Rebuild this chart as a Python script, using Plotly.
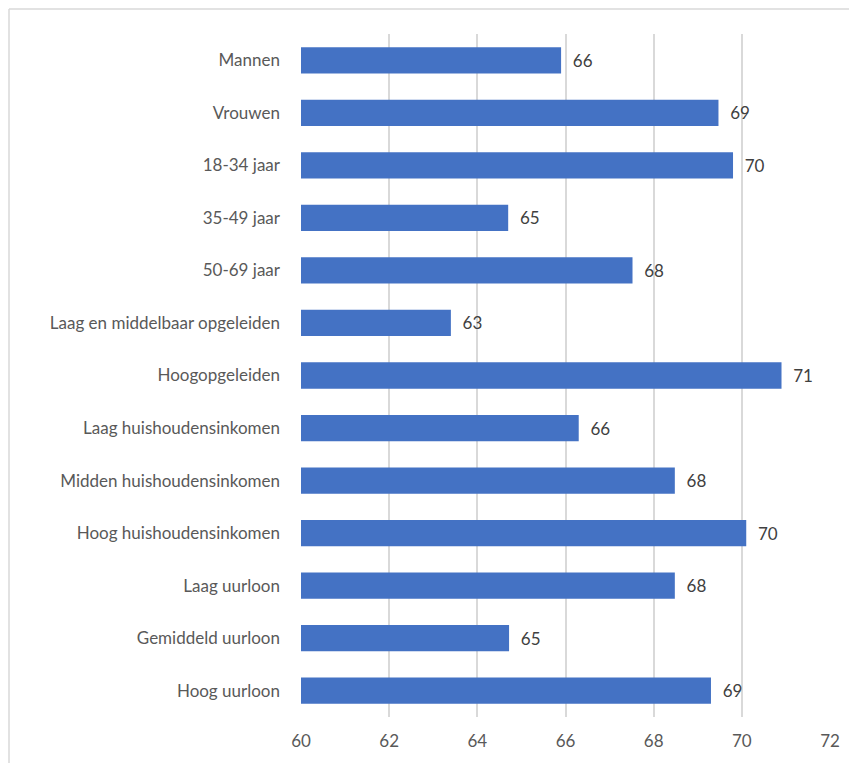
import plotly.graph_objects as go

categories = [
    "Mannen", "Vrouwen", "18-34 jaar", "35-49 jaar", "50-69 jaar",
    "Laag en middelbaar opgeleiden", "Hoogopgeleiden",
    "Laag huishoudensinkomen", "Midden huishoudensinkomen",
    "Hoog huishoudensinkomen", "Laag uurloon", "Gemiddeld uurloon",
    "Hoog uurloon",
]
values = [65.9, 69.47, 69.8, 64.7, 67.52, 63.4, 70.9, 66.3, 68.48, 70.1, 68.48, 64.72, 69.3]
x_ticks = [60, 62, 64, 66, 68, 70, 72]

OFF = 8  # page body margin
W, H = 857 - OFF, 763 - OFF
L, T = 301 - OFF, 34 - OFF
pw, ph = 529, 683
R, B = W - L - pw, H - T - ph

fig = go.Figure(go.Bar(
    y=categories, x=values, orientation="h",
    marker=dict(color="#4472C4", line=dict(width=0)),
    width=0.5,
    texttemplate="\u00a0\u00a0%{x:.0f}", textposition="outside",
    textfont=dict(family="Lato", size=17, color="#404040"),
    cliponaxis=False,
))

def px_x(p):
    return (p - OFF - L) / pw

def px_y(p):
    return (H - B - (p - OFF)) / ph

frame = "#d9d9d9"
fig.add_shape(type="line", xref="paper", yref="paper",
              x0=px_x(9), x1=px_x(9), y0=px_y(9), y1=px_y(800),
              line=dict(color=frame, width=1.5))
fig.add_shape(type="line", xref="paper", yref="paper",
              x0=px_x(9), x1=px_x(900), y0=px_y(9), y1=px_y(9),
              line=dict(color=frame, width=1.5))

fig.update_layout(
    width=W, height=H,
    margin=dict(l=L, r=R, t=T, b=B),
    paper_bgcolor="white", plot_bgcolor="white",
    showlegend=False,
    font=dict(family="Lato", size=17, color="#595959"),
)
fig.update_xaxes(range=[60, 72], tickvals=x_ticks, showgrid=True,
                 gridcolor="#d9d9d9", gridwidth=1.5, zeroline=False,
                 showline=False, ticks="", ticklabelstandoff=12,
                 tickfont=dict(size=17, color="#595959"))
fig.update_yaxes(autorange="reversed", showgrid=False, showline=False,
                 ticks="", ticklabelstandoff=20,
                 tickfont=dict(size=17, color="#595959"))

fig.write_html("out.html")
